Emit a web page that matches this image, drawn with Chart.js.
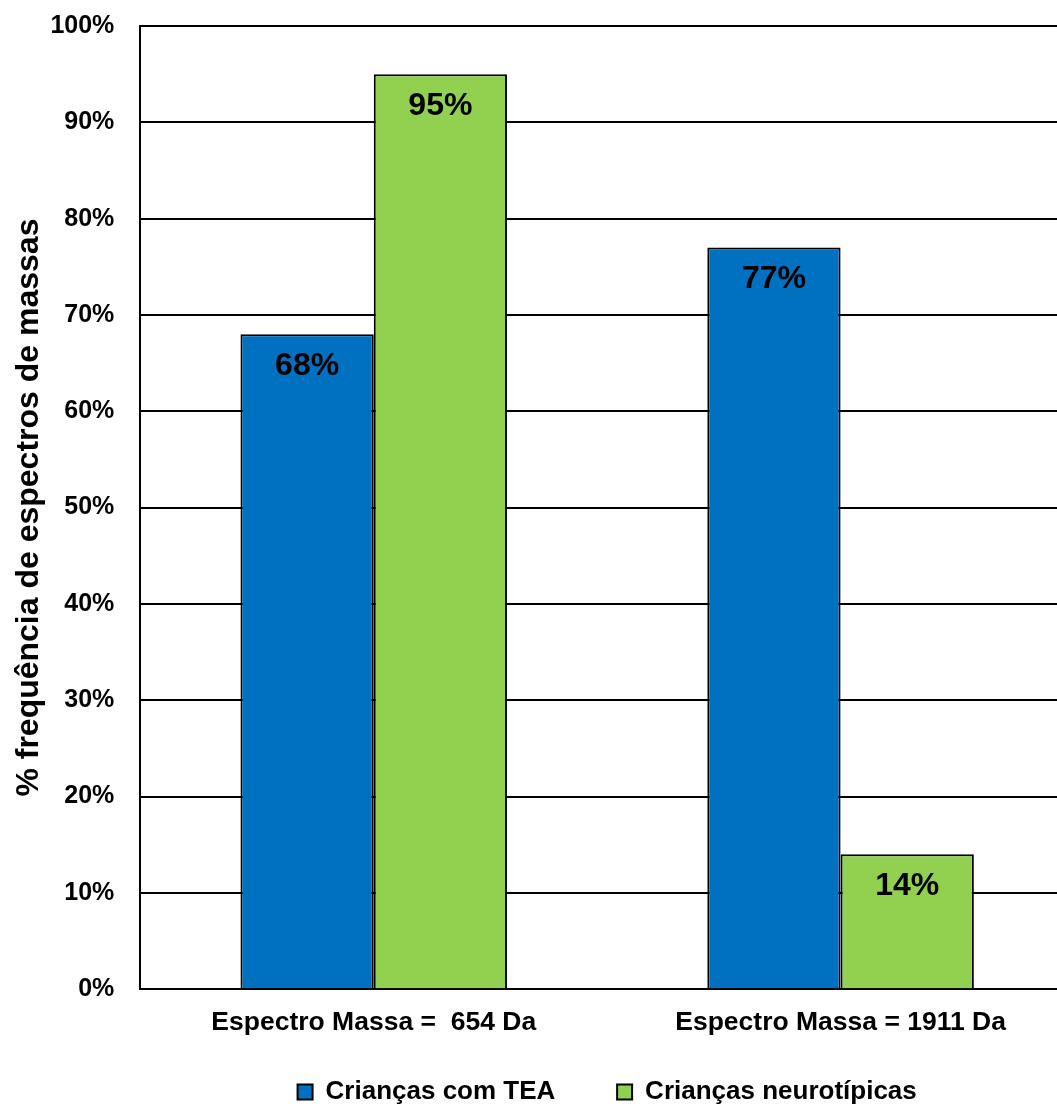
<!DOCTYPE html>
<html>
<head>
    <meta charset="utf-8">
    <title>Frequência de espectros de massas</title>
    <script src="https://cdn.jsdelivr.net/npm/chart.js"></script>
    <style>
        body { margin: 0; overflow: hidden; background: #fff; }
        #wrap { width: 1074px; height: 1106px; position: relative; }
    </style>
</head>
<body>
    <div id="wrap"><canvas id="myChart"></canvas></div>

    <script>
        // categorias e valores (%)
        const categorias = ['Espectro Massa =  654 Da', 'Espectro Massa = 1911 Da'];
        const grupos = ['Crianças com TEA', 'Crianças neurotípicas'];
        const valoresTEA = [68, 77];
        const valoresNeuro = [95, 14];

        const fonte = 'Arial, "Liberation Sans", sans-serif';

        // escreve o valor dentro do topo de cada barra
        const rotulosBarras = {
            id: 'rotulosBarras',
            afterDatasetsDraw(chart) {
                const ctx = chart.ctx;
                ctx.save();
                ctx.font = 'bold 32px ' + fonte;
                ctx.fillStyle = '#000';
                ctx.textAlign = 'center';
                ctx.textBaseline = 'middle';
                chart.data.datasets.forEach((ds, i) => {
                    chart.getDatasetMeta(i).data.forEach((bar, j) => {
                        ctx.fillText(ds.data[j] + '%', bar.x, bar.y + 32);
                    });
                });
                ctx.restore();
            }
        };

        const ctx = document.getElementById('myChart').getContext('2d');

        new Chart(ctx, {
            type: 'bar',
            data: {
                labels: categorias,
                datasets: [{
                    label: grupos[0],
                    data: valoresTEA,
                    backgroundColor: '#0070C0',
                    borderColor: '#000',
                    borderWidth: 2,
                    borderSkipped: 'bottom'
                }, {
                    label: grupos[1],
                    data: valoresNeuro,
                    backgroundColor: '#92D050',
                    borderColor: '#000',
                    borderWidth: 2,
                    borderSkipped: 'bottom'
                }]
            },
            options: {
                responsive: true,
                maintainAspectRatio: false,
                animation: false,
                layout: { padding: { top: 26, left: 10, right: 0, bottom: -9 } },
                datasets: {
                    bar: { categoryPercentage: 0.571, barPercentage: 1 }
                },
                plugins: {
                    tooltip: { enabled: false },
                    legend: {
                        position: 'bottom',
                        fullSize: false,
                        labels: {
                            boxWidth: 15,
                            boxHeight: 15,
                            padding: 4,
                            color: '#000',
                            font: { family: fonte, size: 26, weight: 'bold' },
                            // espaço extra entre os dois itens
                            generateLabels(chart) {
                                const itens = Chart.defaults.plugins.legend.labels.generateLabels(chart);
                                itens[0].text += '        ';
                                return itens;
                            }
                        }
                    }
                },
                scales: {
                    x: {
                        grid: { display: false, drawTicks: false },
                        border: { color: '#000', width: 2 },
                        ticks: {
                            color: '#000',
                            padding: 18,
                            font: { family: fonte, size: 26.5, weight: 'bold' }
                        },
                        afterFit(scale) { scale.height += 18; }
                    },
                    y: {
                        min: 0,
                        max: 100,
                        ticks: {
                            stepSize: 10,
                            color: '#000',
                            padding: 26,
                            font: { family: fonte, size: 25, weight: 'bold' },
                            callback: v => v + '%'
                        },
                        grid: { color: '#000', lineWidth: 2, drawTicks: false },
                        border: { color: '#000', width: 2 },
                        afterFit(scale) {
                            scale.width -= 27;
                            scale.paddingTop = 0;
                        },
                        title: {
                            display: true,
                            text: '% frequência de espectros de massas',
                            color: '#000',
                            padding: { top: 0, bottom: 3 },
                            font: { family: fonte, size: 32, weight: 'bold' }
                        }
                    }
                }
            },
            plugins: [rotulosBarras]
        });
    </script>
</body>
</html>
